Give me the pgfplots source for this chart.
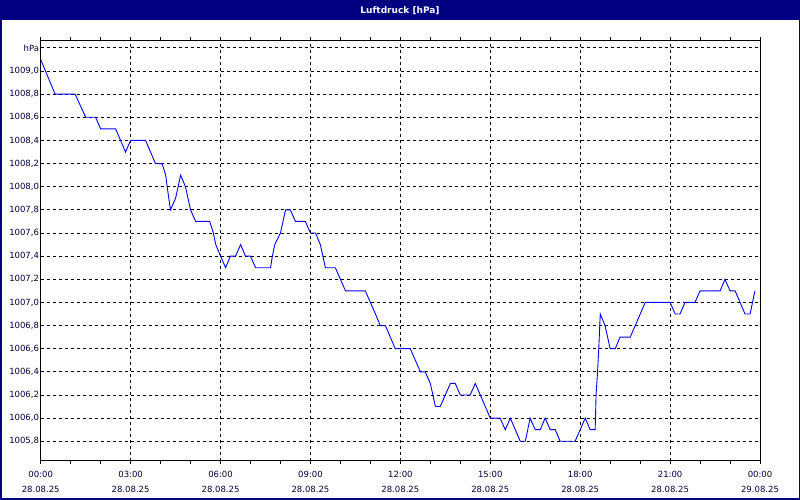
\documentclass[border=0pt]{standalone}
\usepackage{fontspec}
\setmainfont{DejaVu Sans}
\usepackage{pgfplots}
\pgfplotsset{compat=1.18}
\definecolor{navy}{RGB}{0,0,128}
\definecolor{lineblue}{RGB}{0,0,255}
\begin{document}
\begin{tikzpicture}[x=1pt,y=1pt]
\useasboundingbox (0,0) rectangle (800,500);
\fill[white] (0,0) rectangle (800,500);
\begin{axis}[
  at={(40.7pt,39.3pt)}, anchor=south west,
  scale only axis, width=719.3pt, height=420pt,
  xmin=0, xmax=24, ymin=1005.632, ymax=1009.262,
  axis line style={line width=1pt, black},
  major tick length=3.5pt, minor tick length=3.5pt,
  xtick={0,3,...,24},
  xticklabels={{00:00\\28.08.25},{03:00\\28.08.25},{06:00\\28.08.25},{09:00\\28.08.25},{12:00\\28.08.25},{15:00\\28.08.25},{18:00\\28.08.25},{21:00\\28.08.25},{00:00\\29.08.25}},
  minor x tick num=2,
  xtick align=outside,
  x tick style={line width=0.9pt, black},
  ytick={1005.8,1006.0,1006.2,1006.4,1006.6,1006.8,1007.0,1007.2,1007.4,1007.6,1007.8,1008.0,1008.2,1008.4,1008.6,1008.8,1009.0,1009.2},
  yticklabels={{1005,8},{1006,0},{1006,2},{1006,4},{1006,6},{1006,8},{1007,0},{1007,2},{1007,4},{1007,6},{1007,8},{1008,0},{1008,2},{1008,4},{1008,6},{1008,8},{1009,0},{hPa}},
  y tick style={draw=none},
  grid=major,
  major grid style={line width=0.9pt, black, dash pattern=on 3pt off 3pt},
  xticklabel style={align=center, font=\fontsize{8.5}{15.7}\selectfont, color={rgb,255:red,0;green,0;blue,60}, yshift=-3pt},
  yticklabel style={font=\fontsize{8.5}{10}\selectfont, color={rgb,255:red,0;green,0;blue,60}, inner sep=1.5pt},
  clip=true,
]
\addplot[color=lineblue, line width=0.9pt] coordinates {
(0,1009.1) (0.48,1008.8) (1.15,1008.8) (1.5,1008.6) (1.83,1008.6) (2.0,1008.5)
(2.5,1008.5) (2.83,1008.3) (3.0,1008.4) (3.5,1008.4) (3.83,1008.2) (4.05,1008.2)
(4.17,1008.1) (4.22,1008.0) (4.33,1007.8) (4.5,1007.9) (4.67,1008.1) (4.83,1008.0)
(5.0,1007.8) (5.17,1007.7) (5.64,1007.7) (5.76,1007.6) (5.84,1007.5) (6.0,1007.4)
(6.17,1007.3) (6.33,1007.4) (6.5,1007.4) (6.67,1007.5) (6.83,1007.4) (7.0,1007.4)
(7.17,1007.3) (7.67,1007.3) (7.73,1007.4) (7.81,1007.5) (8.0,1007.6) (8.17,1007.8)
(8.33,1007.8) (8.5,1007.7) (8.83,1007.7) (9.0,1007.6) (9.17,1007.6) (9.33,1007.5)
(9.5,1007.3) (9.83,1007.3) (10.17,1007.1) (10.83,1007.1) (11.0,1007.0) (11.17,1006.9)
(11.33,1006.8) (11.5,1006.8) (11.83,1006.6) (12.33,1006.6) (12.67,1006.4) (12.83,1006.4)
(13.0,1006.3) (13.17,1006.1) (13.33,1006.1) (13.67,1006.3) (13.83,1006.3) (14.0,1006.2)
(14.33,1006.2) (14.5,1006.3) (15.0,1006.0) (15.33,1006.0) (15.5,1005.9) (15.67,1006.0)
(16.0,1005.8) (16.17,1005.8) (16.33,1006.0) (16.5,1005.9) (16.67,1005.9) (16.83,1006.0)
(17.0,1005.9) (17.17,1005.9) (17.33,1005.8) (17.83,1005.8) (18.17,1006.0) (18.33,1005.9)
(18.5,1005.9) (18.53,1006.2) (18.58,1006.4) (18.62,1006.6) (18.67,1006.9) (18.83,1006.8)
(19.0,1006.6) (19.17,1006.6) (19.33,1006.7) (19.67,1006.7) (20.17,1007.0) (21.0,1007.0)
(21.17,1006.9) (21.33,1006.9) (21.5,1007.0) (21.83,1007.0) (22.0,1007.1) (22.67,1007.1)
(22.83,1007.2) (23.0,1007.1) (23.17,1007.1) (23.5,1006.9) (23.67,1006.9) (23.83,1007.1)
};
\end{axis}
\fill[navy] (0,479.5) rectangle (800,500);
\node[text=white, font=\fontsize{9}{10}\selectfont\bfseries] at (400,489.5) {Luftdruck [hPa]};
\draw[navy, line width=1.5pt] (0.75,0.75) rectangle (799.25,499.25);
\end{tikzpicture}
\end{document}
